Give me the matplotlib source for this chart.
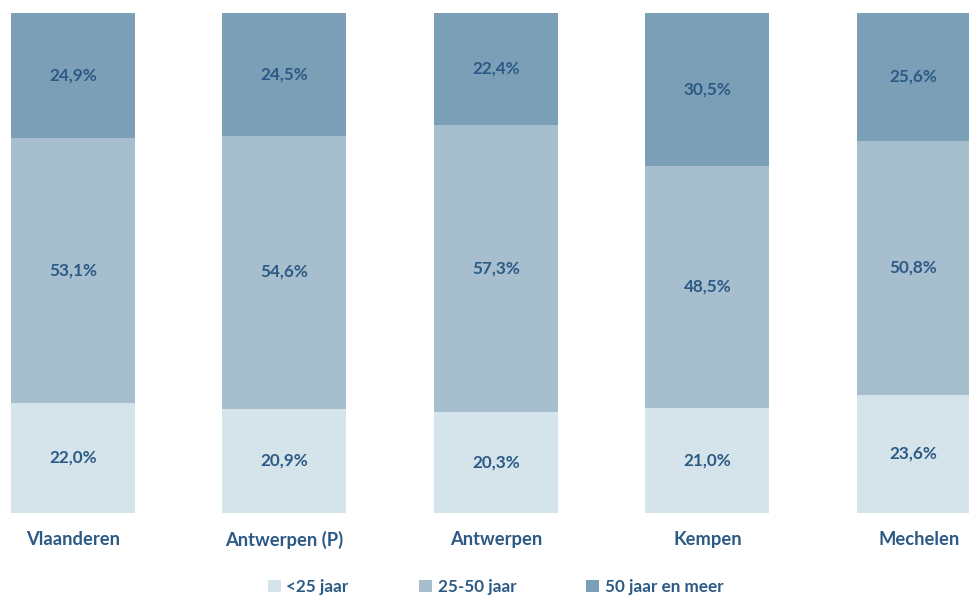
import matplotlib
matplotlib.use("Agg")
import matplotlib.pyplot as plt
from matplotlib.patches import Patch

categories = ["Vlaanderen", "Antwerpen (P)", "Antwerpen", "Kempen", "Mechelen"]
under25 = [22.0, 20.9, 20.3, 21.0, 23.6]
mid25_50 = [53.1, 54.6, 57.3, 48.5, 50.8]
over50 = [24.9, 24.5, 22.4, 30.5, 25.6]
series_names = ["<25 jaar", "25-50 jaar", "50 jaar en meer"]

colors = ["#D4E4EA", "#A6BECD", "#7C9FB8"]
txt = "#2C5A85"
plt.rcParams['font.family'] = ['Lato', 'DejaVu Sans']

fig = plt.figure(figsize=(9.7, 5.96), dpi=100)
ax = fig.add_axes([0, (596 - 513) / 596, 1, 500 / 596])
x = list(range(len(categories)))
w = 124 / 211.5
b1 = ax.bar(x, under25, width=w, color=colors[0])
b2 = ax.bar(x, mid25_50, width=w, bottom=under25, color=colors[1])
bot3 = [a + b for a, b in zip(under25, mid25_50)]
b3 = ax.bar(x, over50, width=w, bottom=bot3, color=colors[2])

def fmt(v):
    return f"{v:.1f}%".replace(".", ",")

for bars, vals in ((b1, under25), (b2, mid25_50), (b3, over50)):
    ax.bar_label(bars, labels=[fmt(v) for v in vals], label_type="center",
                 color=txt, fontsize=12.3, fontweight="bold")

ax.set_xlim(-73 / 211.5, (970 - 73) / 211.5)
ax.set_ylim(0, 100)
for s in ax.spines.values():
    s.set_visible(False)
ax.set_yticks([])
ax.set_xticks(x)
ax.set_xticklabels(categories, color=txt, fontsize=13.2, fontweight="bold")
ax.tick_params(axis="x", length=0, pad=13)

handles = [Patch(facecolor=c) for c in colors]
leg = fig.legend(handles, series_names, loc="center", bbox_to_anchor=(0.511, (596 - 587) / 596),
                 ncol=3, frameon=False, handlelength=0.75, handleheight=0.75,
                 handletextpad=0.35, columnspacing=4.1,
                 prop={"family": ["Lato", "DejaVu Sans"], "weight": "bold", "size": 12.3})
for t in leg.get_texts():
    t.set_color(txt)

fig.savefig("out.png", dpi=100)
